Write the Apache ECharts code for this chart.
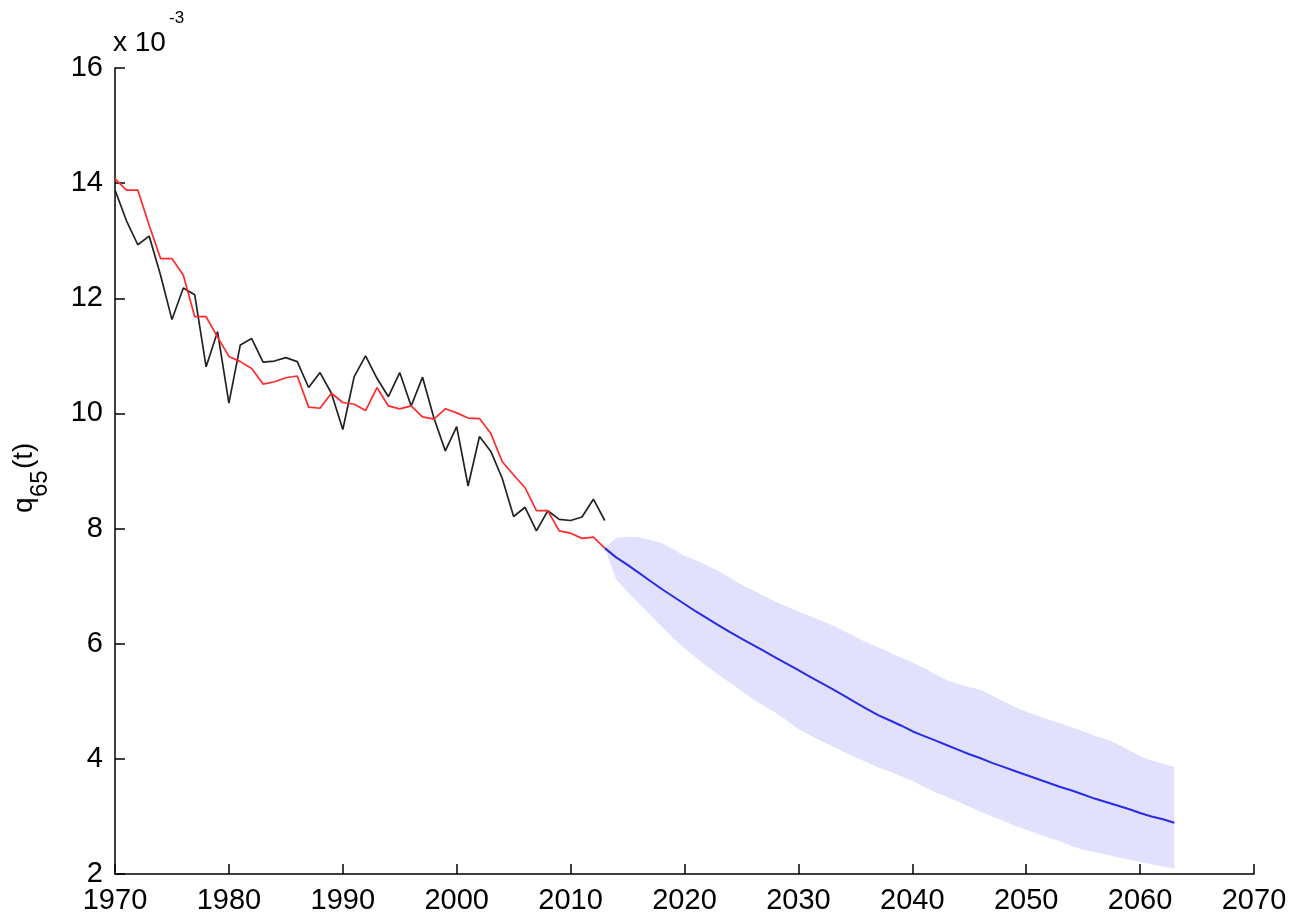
<!DOCTYPE html>
<html>
<head>
<meta charset="utf-8">
<script src="https://cdn.jsdelivr.net/npm/echarts@6/dist/echarts.min.js"></script>
<style>
  html, body { margin: 0; padding: 0; background: #fff; }
  #chart { width: 1295px; height: 919px; }
</style>
</head>
<body>
<div id="chart"></div>
<script>
// values are in units of 10^-3
var obsStart = 1970;
var observed = [13.88, 13.35, 12.93, 13.08, 12.40, 11.63, 12.18, 12.06, 10.81, 11.42,
  10.18, 11.19, 11.30, 10.89, 10.91, 10.97, 10.90, 10.45, 10.71, 10.35,
  9.72, 10.64, 11.00, 10.61, 10.29, 10.71, 10.13, 10.63, 9.92, 9.35,
  9.77, 8.74, 9.60, 9.34, 8.87, 8.21, 8.37, 7.96, 8.31, 8.16,
  8.14, 8.20, 8.51, 8.14];
var fitted = [14.08, 13.88, 13.88, 13.27, 12.69, 12.69, 12.40, 11.68, 11.68, 11.33,
  10.99, 10.90, 10.78, 10.51, 10.55, 10.62, 10.65, 10.11, 10.09, 10.35,
  10.19, 10.16, 10.05, 10.45, 10.13, 10.08, 10.13, 9.94, 9.90, 10.08,
  10.01, 9.92, 9.91, 9.65, 9.16, 8.93, 8.71, 8.31, 8.31, 7.96,
  7.92, 7.83, 7.85, 7.66];

var fcStart = 2013;
var forecast = [7.66, 7.50, 7.37, 7.23, 7.09, 6.95, 6.82, 6.69, 6.56, 6.44,
  6.32, 6.20, 6.09, 5.98, 5.87, 5.76, 5.65, 5.54, 5.43, 5.32,
  5.21, 5.10, 4.98, 4.87, 4.76, 4.67, 4.58, 4.48, 4.40, 4.32,
  4.24, 4.16, 4.08, 4.01, 3.93, 3.86, 3.79, 3.72, 3.65, 3.58,
  3.51, 3.45, 3.38, 3.31, 3.25, 3.19, 3.13, 3.06, 3.00, 2.95, 2.89];
var bandUpper = [7.66, 7.84, 7.86, 7.85, 7.80, 7.75, 7.64, 7.53, 7.45, 7.36,
  7.26, 7.14, 7.03, 6.93, 6.83, 6.73, 6.64, 6.56, 6.48, 6.40,
  6.32, 6.22, 6.12, 6.02, 5.94, 5.85, 5.76, 5.68, 5.58, 5.47,
  5.37, 5.30, 5.25, 5.20, 5.10, 5.00, 4.90, 4.82, 4.75, 4.68,
  4.62, 4.55, 4.48, 4.40, 4.34, 4.26, 4.15, 4.05, 3.97, 3.92, 3.86];
var bandLower = [7.66, 7.12, 6.90, 6.70, 6.50, 6.30, 6.10, 5.92, 5.76, 5.60,
  5.46, 5.32, 5.18, 5.04, 4.92, 4.80, 4.66, 4.52, 4.41, 4.31,
  4.22, 4.12, 4.03, 3.94, 3.85, 3.78, 3.70, 3.62, 3.51, 3.42,
  3.34, 3.26, 3.17, 3.08, 3.00, 2.92, 2.84, 2.77, 2.70, 2.63,
  2.57, 2.48, 2.42, 2.38, 2.34, 2.29, 2.25, 2.21, 2.17, 2.13, 2.10];

function pairs(start, vals) {
  return vals.map(function (v, i) { return [start + i, v]; });
}

var chart = echarts.init(document.getElementById('chart'));
var font = 'Liberation Sans, Arial, sans-serif';

var option = {
  backgroundColor: '#ffffff',
  animation: false,
  grid: { left: 115, right: 41, top: 68, bottom: 45, containLabel: false },
  xAxis: {
    type: 'value', min: 1970, max: 2070, interval: 10,
    axisLine: { show: true, lineStyle: { color: '#000', width: 1.5 } },
    axisTick: { show: true, inside: true, length: 10, lineStyle: { color: '#000', width: 1.5 } },
    axisLabel: {
      color: '#000', fontSize: 29, fontFamily: font, margin: 12,
      formatter: function (v) { return String(v); }
    },
    splitLine: { show: false }
  },
  yAxis: {
    type: 'value', min: 2, max: 16, interval: 2,
    axisLine: { show: true, lineStyle: { color: '#000', width: 1.5 } },
    axisTick: { show: true, inside: true, length: 10, lineStyle: { color: '#000', width: 1.5 } },
    axisLabel: { color: '#000', fontSize: 29, fontFamily: font, margin: 12 },
    splitLine: { show: false }
  },
  graphic: [
    { type: 'text', left: 113, top: 29, style: { text: 'x 10', fontSize: 28, fontFamily: font, fill: '#000' } },
    { type: 'text', left: 169, top: 10, style: { text: '-3', fontSize: 17, fontFamily: font, fill: '#000' } },
    {
      // rotated y-axis title q_65(t)
      type: 'group', x: 24, y: 513, rotation: Math.PI / 2,
      children: [
        { type: 'text', x: 0, y: 0, style: { text: 'q', fontSize: 28, fontFamily: font, fill: '#000', verticalAlign: 'middle' } },
        { type: 'text', x: 16, y: 16, style: { text: '65', fontSize: 24, fontFamily: font, fill: '#000', verticalAlign: 'middle' } },
        { type: 'text', x: 44, y: 0, style: { text: '(t)', fontSize: 28, fontFamily: font, fill: '#000', verticalAlign: 'middle' } }
      ]
    }
  ],
  series: [
    {
      type: 'custom',
      silent: true,
      z: 1,
      data: [[fcStart, forecast[0]]],
      renderItem: function (params, api) {
        var pts = [];
        for (var i = 0; i < bandUpper.length; i++) pts.push(api.coord([fcStart + i, bandUpper[i]]));
        for (var j = bandLower.length - 1; j >= 0; j--) pts.push(api.coord([fcStart + j, bandLower[j]]));
        return { type: 'polygon', shape: { points: pts }, style: { fill: '#e1e1fd', stroke: null } };
      }
    },
    {
      type: 'line', data: pairs(obsStart, observed), symbol: 'none', z: 3,
      lineStyle: { color: '#222', width: 1.7 }
    },
    {
      type: 'line', data: pairs(obsStart, fitted), symbol: 'none', z: 4,
      lineStyle: { color: '#ff2a2a', width: 1.7 }
    },
    {
      type: 'line', data: pairs(fcStart, forecast), symbol: 'none', z: 4,
      lineStyle: { color: '#2a2ae8', width: 2 }
    }
  ]
};
chart.setOption(option);
</script>
</body>
</html>
